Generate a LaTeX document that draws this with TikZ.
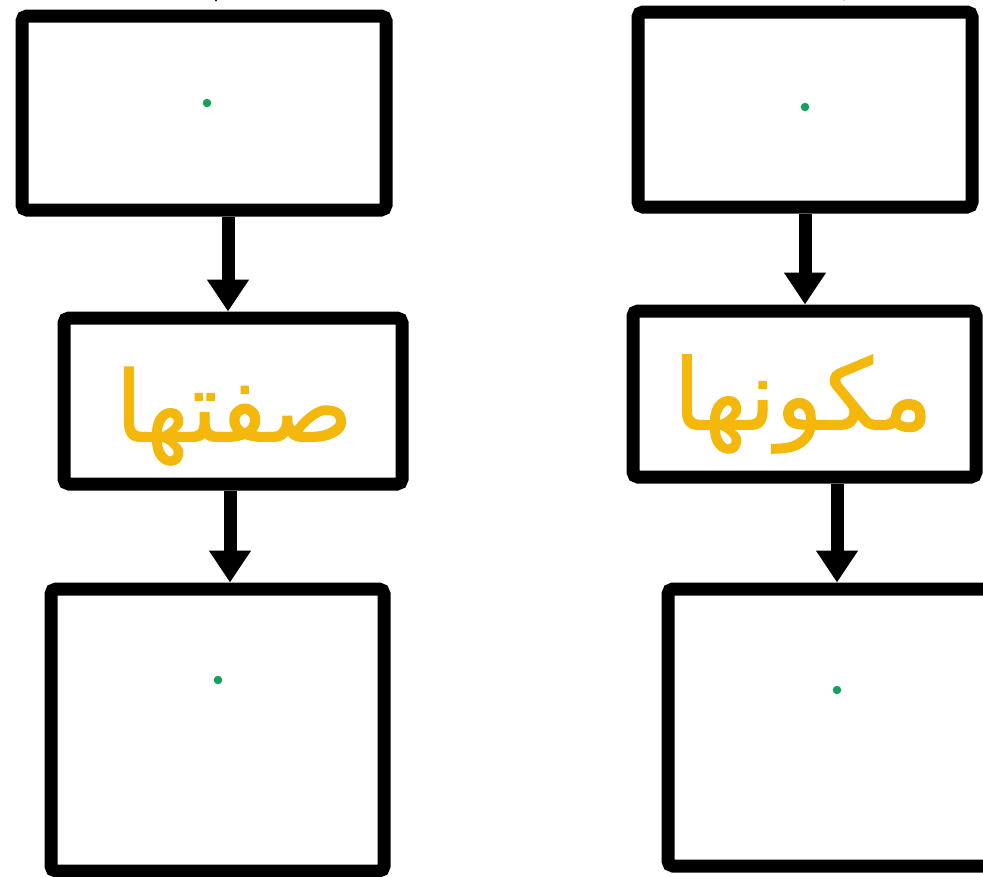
\documentclass[tikz,border=0pt]{standalone}
\usepackage{fontspec}
\newfontfamily\arabicfont[Script=Arabic,FakeBold=1.2]{DejaVu Sans}
\TeXXeTstate=1
\usetikzlibrary{arrows.meta}
\definecolor{txtgold}{RGB}{244,184,12}
\definecolor{dotgreen}{RGB}{22,160,92}
\tikzset{
  boxnode/.style={draw=black, line width=13pt, rounded corners=5pt, inner sep=0pt, fill=white},
  arr/.style={line width=13pt, -{Triangle[width=40pt,length=32pt]}},
  dotnode/.style={circle, fill=dotgreen, inner sep=0pt, minimum size=8.5pt},
  lbl/.style={text=txtgold, font=\arabicfont\fontsize{98}{110}\selectfont}
}
\begin{document}
\begin{tikzpicture}[x=1pt,y=-1pt]
\useasboundingbox[fill=white] (0,0) rectangle (983,876);
% left column
\node[boxnode, minimum width=364pt, minimum height=194pt] (ltop) at (204,113) {};
\node[boxnode, minimum width=338pt, minimum height=166pt] (lmid) at (233,401) {};
\node[lbl] (ltxt) at (234,416) {\beginR صفتها\endR};
\node[boxnode, minimum width=333pt, minimum height=282pt] (lbot) at (217.5,730) {};
% right column
\node[boxnode, minimum width=334pt, minimum height=195pt] (rtop) at (805,109.5) {};
\node[boxnode, minimum width=343pt, minimum height=166pt] (rmid) at (804.5,394) {};
\node[lbl] (rtxt) at (803,404) {\beginR مكونها\endR};
\node[boxnode, minimum width=332pt, minimum height=277pt] (rbot) at (834,727.5) {};
% green dots
\node[dotnode] (d1) at (207,103) {};
\node[dotnode] (d2) at (805,107) {};
\node[dotnode] (d3) at (218,680) {};
\node[dotnode] (d4) at (837,690) {};
% arrow x positions
\coordinate (ax1) at (228,0);
\coordinate (ax2) at (230,0);
\coordinate (ax3) at (805,0);
\coordinate (ax4) at (837,0);
\draw[arr] (ltop.south -| ax1) -- (lmid.north -| ax1);
\draw[arr] (lmid.south -| ax2) -- (lbot.north -| ax2);
\draw[arr] (rtop.south -| ax3) -- (rmid.north -| ax3);
\draw[arr] (rmid.south -| ax4) -- (rbot.north -| ax4);
% arrow stubs entering from above
\coordinate (s1a) at (216,-60);
\coordinate (s1b) at (216,2);
\coordinate (s2a) at (844,-60);
\coordinate (s2b) at (844,1);
\draw[arr] (s1a) -- (s1b);
\draw[arr] (s2a) -- (s2b);
\end{tikzpicture}
\end{document}
